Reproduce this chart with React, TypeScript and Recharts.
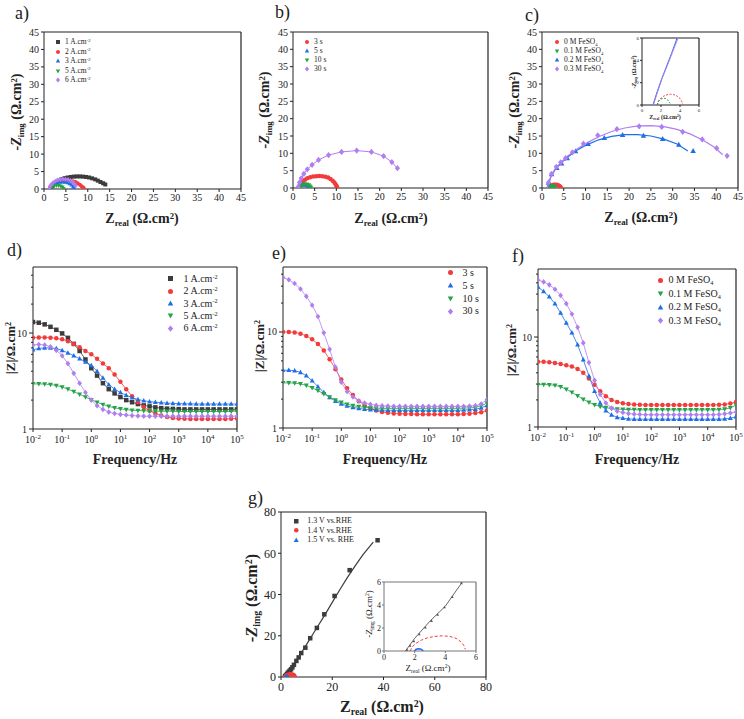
import React from 'react';
import { ComposedChart, Scatter, XAxis, YAxis, Legend, ReferenceLine } from 'recharts';

const FONT = '"Liberation Serif", "Times New Roman", Times, serif';
const INK = '#222';
const COL = { black: '#3c3c3c', red: '#f23b3b', blue: '#1e6fe5', green: '#26a349', purple: '#b07ef0' };

type P = [number, number];

// ---------- Panel a : Nyquist vs current density ----------
const nyqA_1A: P[] = [[1.6,0.2],[1.9,0.8],[2.3,1.4],[2.8,1.9],[3.4,2.4],[4.0,2.8],[4.7,3.1],[5.4,3.3],[6.1,3.45],[6.8,3.55],[7.5,3.6],[8.2,3.6],[8.9,3.55],[9.6,3.45],[10.3,3.3],[11.0,3.05],[11.7,2.75],[12.3,2.4],[12.9,2.0],[13.5,1.65],[14.0,1.3]];
const nyqA_2A: P[] = [[1.3,0],[1.45,0.6],[1.75,1.1],[2.15,1.5],[2.6,1.85],[3.1,2.12],[3.65,2.32],[4.2,2.45],[4.8,2.5],[5.4,2.47],[6.0,2.38],[6.6,2.22],[7.2,1.98],[7.7,1.65],[8.2,1.25],[8.6,0.82],[8.95,0.4],[9.15,0.05]];
const nyqA_3A: P[] = [[1.3,0],[1.45,0.5],[1.75,0.95],[2.15,1.33],[2.6,1.62],[3.1,1.83],[3.65,1.96],[4.2,2.0],[4.8,1.96],[5.35,1.82],[5.85,1.55],[6.3,1.15],[6.65,0.7],[6.9,0.25]];
const nyqA_5A: P[] = [[1.5,0],[1.65,0.4],[1.95,0.7],[2.35,0.9],[2.85,1.0],[3.35,0.98],[3.8,0.82],[4.2,0.52],[4.45,0.15]];
const nyqA_6A: P[] = [[1.2,0],[1.35,0.7],[1.65,1.3],[2.05,1.82],[2.55,2.25],[3.1,2.56],[3.7,2.75],[4.3,2.85],[4.9,2.83],[5.5,2.7],[6.05,2.42],[6.55,2.0],[6.95,1.5],[7.25,0.95]];

// ---------- Panel b : Nyquist vs deposition time ----------
const nyqB_3s: P[] = [[1.4,0],[1.55,0.7],[1.85,1.3],[2.25,1.9],[2.75,2.4],[3.3,2.8],[3.95,3.1],[4.65,3.3],[5.35,3.42],[6.05,3.46],[6.75,3.42],[7.45,3.27],[8.1,3.0],[8.65,2.62],[9.15,2.12],[9.55,1.58],[9.85,1.02],[10.1,0.5],[10.2,0.08]];
const nyqB_5s: P[] = [[1.0,0],[1.25,0.45],[1.65,0.72],[2.15,0.88],[2.65,0.92],[3.15,0.84],[3.55,0.62],[3.85,0.32],[4.0,0.05]];
const nyqB_10s: P[] = [[1.5,0],[1.75,0.48],[2.15,0.84],[2.65,1.04],[3.15,1.05],[3.6,0.86],[3.9,0.52],[4.1,0.15]];
const nyqB_30s: P[] = [[1.2,0.3],[1.5,1.6],[1.9,2.8],[2.5,4.1],[3.3,5.4],[4.4,6.7],[5.9,8.1],[8.2,9.5],[11.2,10.4],[14.7,10.8],[18.1,10.4],[20.9,9.2],[22.8,7.5],[24.1,5.7]];

// ---------- Panel c : Nyquist vs FeSO4 ----------
const nyqC_0M: P[] = [[1.6,0],[1.75,0.38],[2.0,0.62],[2.3,0.8],[2.65,0.92],[3.0,0.96],[3.35,0.93],[3.7,0.8],[4.0,0.58],[4.2,0.3],[4.3,0.05]];
const nyqC_01M: P[] = [[1.6,0],[1.72,0.3],[1.92,0.5],[2.2,0.6],[2.5,0.58],[2.75,0.42],[2.95,0.15]];
const nyqC_02M: P[] = [[1.5,1.5],[2.2,4.0],[3.4,5.8],[4.5,7.1],[5.8,8.6],[7.7,10.6],[10.6,12.7],[14.3,14.4],[18.5,15.3],[23.3,15.1],[27.7,14.1],[31.4,12.5],[34.7,10.7]];
const nyqC_03M: P[] = [[1.5,1.6],[2.2,4.1],[3.3,6.1],[4.3,7.4],[5.4,8.6],[7.0,10.3],[9.5,12.8],[12.8,15.2],[17.2,17.0],[22.3,17.8],[27.5,17.6],[32.3,16.2],[36.8,14.0],[40.1,11.5],[42.5,9.3]];
const fitC_02M: P[] = [[1.2,0],[2,3.1],[3,5.3],[4.5,7.4],[6,9.0],[8,10.9],[10,12.3],[13,13.9],[16,14.9],[19,15.4],[22,15.4],[25,15.0],[28,14.1],[31,12.7],[33.5,10.7]];
const fitC_03M: P[] = [[1.2,0],[2,3.2],[3,5.5],[4.5,7.6],[6,9.3],[8,11.2],[10,12.8],[13,14.8],[16,16.3],[19,17.3],[22,17.9],[25,18.0],[28,17.7],[31,16.9],[34,15.6],[37,13.8],[39.5,11.8],[41.5,9.6]];
const insC_02M: P[] = [[1.15,0],[1.6,1.2],[2.1,2.4],[2.6,3.5],[3.1,4.6],[3.7,6]];
const insC_03M: P[] = [[1.2,0],[1.65,1.2],[2.15,2.45],[2.7,3.6],[3.2,4.7],[3.8,6]];

// ---------- Panel g : Nyquist vs potential ----------
const nyqG_13V: P[] = [[1.5,0.1],[1.7,0.45],[1.95,0.85],[2.3,1.45],[2.7,2.05],[3.1,2.6],[3.5,3.15],[3.95,3.8],[4.45,4.7],[5.05,5.9],[6.0,7.8],[6.9,9.5],[7.9,11.6],[9.5,14.2],[11.4,18.8],[14.0,23.8],[16.9,30.4],[20.9,39.3],[26.8,51.8],[37.7,66.3]];
const fitG_13V: P[] = [[1.4,0],[2,1.1],[3,2.6],[4,3.9],[5,5.8],[6.5,8.9],[8,11.9],[10,15.8],[12,19.9],[14,23.9],[17,29.9],[20,36.2],[23,42.4],[26,48.4],[29,54],[32,59.3],[36,65.4]];
const nyqG_14V: P[] = [[1.7,0],[1.85,0.38],[2.1,0.68],[2.45,0.95],[2.85,1.15],[3.3,1.27],[3.8,1.32],[4.3,1.27],[4.7,1.1],[5.0,0.82],[5.2,0.5],[5.3,0.15]];
const nyqG_15V: P[] = [[2.0,0],[2.08,0.13],[2.22,0.2],[2.38,0.18],[2.5,0.08],[2.55,0]];

// ---------- Bode panels d, e, f ----------
const FREQ = [0.01,0.0158,0.0251,0.0398,0.0631,0.1,0.158,0.251,0.398,0.631,1,1.58,2.51,3.98,6.31,10,15.8,25.1,39.8,63.1,100,158,251,398,631,1000,1580,2510,3980,6310,10000,15800,25100,39800,63100,100000];

const d_1A = [13,12.8,12.3,11.6,10.8,9.9,8.9,7.7,6.5,5.3,4.3,3.6,3.0,2.6,2.35,2.15,2.0,1.9,1.82,1.76,1.72,1.68,1.65,1.63,1.62,1.61,1.6,1.6,1.6,1.6,1.6,1.6,1.6,1.6,1.6,1.6];
const d_2A = [8.9,9.0,9.0,8.95,8.8,8.6,8.2,7.7,7.1,6.5,6.0,5.4,4.8,4.3,3.7,3.1,2.6,2.2,1.9,1.7,1.55,1.45,1.38,1.33,1.3,1.29,1.28,1.27,1.27,1.27,1.27,1.27,1.27,1.27,1.28,1.29];
const d_3A = [6.7,6.9,7.0,7.0,6.9,6.6,6.2,5.8,5.4,5.0,4.6,4.0,3.4,2.9,2.6,2.4,2.25,2.12,2.03,1.97,1.93,1.9,1.88,1.86,1.85,1.84,1.83,1.83,1.82,1.82,1.82,1.82,1.82,1.82,1.82,1.82];
const d_5A = [2.95,2.95,2.94,2.9,2.84,2.74,2.6,2.45,2.3,2.15,2.02,1.9,1.8,1.72,1.66,1.62,1.59,1.57,1.56,1.55,1.54,1.53,1.53,1.53,1.53,1.52,1.52,1.52,1.52,1.52,1.52,1.52,1.52,1.52,1.53,1.54];
const d_6A = [7.5,7.6,7.5,7.2,6.6,5.8,4.8,3.8,3.0,2.4,2.0,1.75,1.6,1.5,1.45,1.42,1.4,1.38,1.37,1.36,1.36,1.36,1.36,1.36,1.36,1.36,1.36,1.36,1.36,1.36,1.36,1.36,1.36,1.36,1.36,1.36];

const e_3s = [10,10,9.9,9.6,9.1,8.4,7.5,6.4,5.2,4.1,3.2,2.6,2.2,1.9,1.72,1.6,1.52,1.47,1.44,1.42,1.41,1.4,1.4,1.39,1.39,1.39,1.39,1.39,1.39,1.39,1.39,1.4,1.41,1.43,1.46,1.52];
const e_5s = [4.0,4.0,3.95,3.8,3.5,3.1,2.7,2.35,2.08,1.9,1.78,1.7,1.64,1.6,1.57,1.55,1.54,1.54,1.53,1.53,1.53,1.53,1.53,1.53,1.53,1.53,1.53,1.53,1.53,1.53,1.53,1.54,1.55,1.57,1.62,1.72];
const e_10s = [2.95,2.95,2.93,2.88,2.78,2.62,2.45,2.27,2.1,1.96,1.85,1.77,1.71,1.67,1.64,1.62,1.61,1.6,1.6,1.6,1.6,1.6,1.6,1.6,1.6,1.6,1.6,1.6,1.6,1.6,1.6,1.61,1.62,1.64,1.7,1.82];
const e_30s = [37,35,32,28,23.5,19,14.5,9.8,6.6,4.3,3.0,2.4,2.1,1.92,1.82,1.76,1.72,1.7,1.69,1.68,1.68,1.68,1.68,1.68,1.68,1.68,1.68,1.68,1.68,1.68,1.68,1.68,1.69,1.71,1.78,1.98];

const f_0M = [5.3,5.3,5.25,5.15,5.0,4.85,4.7,4.4,4.0,3.45,2.95,2.5,2.2,2.0,1.9,1.84,1.8,1.78,1.77,1.76,1.76,1.76,1.76,1.76,1.76,1.76,1.76,1.76,1.76,1.76,1.76,1.76,1.77,1.78,1.82,1.9];
const f_01M = [2.95,2.97,2.95,2.9,2.8,2.63,2.43,2.22,2.03,1.88,1.77,1.69,1.64,1.6,1.58,1.57,1.56,1.56,1.55,1.55,1.55,1.55,1.55,1.55,1.55,1.55,1.55,1.55,1.55,1.55,1.55,1.55,1.56,1.58,1.63,1.75];
const f_02M = [36,32,28,23.5,18.5,14.3,11.2,8.2,5.6,3.7,2.5,1.85,1.52,1.36,1.28,1.25,1.23,1.22,1.22,1.22,1.22,1.22,1.22,1.22,1.22,1.22,1.22,1.22,1.22,1.22,1.22,1.22,1.22,1.23,1.25,1.3];
const f_03M = [43,41,38,34,29,23.5,18,12.8,8.6,5.2,3.3,2.3,1.85,1.62,1.5,1.45,1.41,1.39,1.38,1.37,1.37,1.37,1.37,1.37,1.37,1.37,1.37,1.37,1.37,1.37,1.37,1.37,1.38,1.4,1.43,1.47];

// ---------- ticks ----------
const NYQ_TICKS = [0,5,10,15,20,25,30,35,40,45];
const G_TICKS = [0,20,40,60,80];
const INSET_TICKS = [0,2,4,6];
const FREQ_TICKS = [0.01,0.1,1,10,100,1000,10000,100000];
const LOGY_TICKS = [1,2,3,4,5,6,7,8,9,10,20,30,40];
const LOGY_TICKS_F = [1,2,3,4,5,6,7,8,9,10,20,30,40,50];

// ---------- labels ----------
const LEG_A = ['1', '2', '3', '5', '6'];
const LEG_B = ['3 s', '5 s', '10 s', '30 s'];
const LEG_C = ['0', '0.1', '0.2', '0.3'];
const LEG_G = ['1.3 V vs.RHE', '1.4 V vs.RHE', '1.5 V vs. RHE'];

const pts = (a: P[]) => a.map(([x, y]) => ({ x, y }));
const bode = (v: number[]) => FREQ.map((f, i) => ({ x: f, y: v[i] }));

type Kind = 'square' | 'circle' | 'up' | 'down' | 'diamond' | 'none';

function Mark(props: any) {
  const { cx, cy, kind, color, s } = props;
  if (cx == null || cy == null || isNaN(cx) || isNaN(cy) || kind === 'none') return <g />;
  const h = s / 2;
  switch (kind) {
    case 'square':
      return <rect x={cx - h} y={cy - h} width={s} height={s} fill={color} />;
    case 'circle':
      return <circle cx={cx} cy={cy} r={h} fill={color} />;
    case 'up':
      return <polygon points={`${cx},${cy - h * 1.2} ${cx - h * 1.1},${cy + h * 0.8} ${cx + h * 1.1},${cy + h * 0.8}`} fill={color} />;
    case 'down':
      return <polygon points={`${cx},${cy + h * 1.2} ${cx - h * 1.1},${cy - h * 0.8} ${cx + h * 1.1},${cy - h * 0.8}`} fill={color} />;
    case 'diamond':
      return <polygon points={`${cx},${cy - h * 1.25} ${cx + h * 1.05},${cy} ${cx},${cy + h * 1.25} ${cx - h * 1.05},${cy}`} fill={color} />;
    default:
      return <g />;
  }
}

const Sub = ({ children }: any) => <span style={{ fontSize: '0.62em', position: 'relative', top: '0.35em' }}>{children}</span>;
const Sup = ({ children }: any) => <span style={{ fontSize: '0.62em', position: 'relative', top: '-0.5em' }}>{children}</span>;

interface LegItem { label: React.ReactNode; kind: Kind; color: string; }
interface LegSpec { x: number; y: number; dy: number; fs: number; ms: number; gap: number; items: LegItem[]; }

function LegendBox({ spec }: { spec: LegSpec }) {
  const box = spec.ms + 2;
  return (
    <div style={{ position: 'relative', fontFamily: FONT, fontSize: spec.fs, color: INK }}>
      {spec.items.map((it, i) => (
        <div key={i} style={{ position: 'absolute', left: 0, top: i * spec.dy, height: spec.dy, display: 'flex', alignItems: 'center', whiteSpace: 'nowrap' }}>
          <svg width={box} height={box} style={{ overflow: 'visible', display: 'block' }}>
            <Mark cx={box / 2} cy={box / 2} kind={it.kind} color={it.color} s={spec.ms} />
          </svg>
          <span style={{ marginLeft: spec.gap, lineHeight: 1 }}>{it.label}</span>
        </div>
      ))}
    </div>
  );
}

const LogXTick = (props: any) => {
  const { x, y, payload, fs } = props;
  const ay = y - 6;
  const e = Math.round(Math.log10(payload.value));
  return (
    <g>
      <line x1={x} x2={x} y1={ay} y2={ay + 3} stroke={INK} />
      <text x={x} y={ay + fs + 4} textAnchor="middle" fontSize={fs} fontFamily={FONT} fill={INK}>
        10<tspan dy={-fs * 0.42} fontSize={fs * 0.7}>{String(e)}</tspan>
      </text>
    </g>
  );
};

const LogYTick = (props: any) => {
  const { x, y, payload, fs } = props;
  const ax = x + 6;
  const v = payload.value;
  const major = v === 1 || v === 10;
  return (
    <g>
      <line x1={ax} x2={ax - (major ? 4 : 2)} y1={y} y2={y} stroke={INK} />
      {major && (
        <text x={ax - 6} y={y} dy="0.35em" textAnchor="end" fontSize={fs} fontFamily={FONT} fill={INK}>{v}</text>
      )}
    </g>
  );
};

interface Series { data: { x: number; y: number }[]; kind: Kind; color: string; size: number; line?: { w: number; dash?: string }; }
interface PanelProps {
  rect: { x: number; y: number; w: number; h: number };
  xDomain: [number, number]; yDomain: [number, number];
  xTicks: number[]; yTicks: number[];
  xLog?: boolean; yLog?: boolean;
  series: Series[];
  legend?: LegSpec;
  fs: number;
  frame?: string;
  tl?: number;
  tm?: number;
  padL?: number;
  padB?: number;
  padR?: number;
  padT?: number;
}

function Panel(p: PanelProps) {
  const padL = p.padL ?? 34, padT = p.padT ?? 6, padR = p.padR ?? 6, padB = p.padB ?? 24;
  const W = p.rect.w + padL + padR, H = p.rect.h + padT + padB;
  const left = p.rect.x - padL, top = p.rect.y - padT;
  const frame = p.frame ?? INK;
  const tl = p.tl ?? 3;
  const tm = p.tm ?? 2;
  const tickStyle = { fontSize: p.fs, fill: INK, fontFamily: FONT };
  return (
    <div style={{ position: 'absolute', left, top, width: W, height: H }}>
      <ComposedChart width={W} height={H} margin={{ top: padT, right: padR, bottom: 0, left: 0 }}>
        <XAxis
          type="number" dataKey="x" scale={p.xLog ? 'log' : 'linear'} domain={p.xDomain} ticks={p.xTicks}
          interval={0} allowDataOverflow height={padB}
          axisLine={{ stroke: frame, strokeWidth: 1 }}
          tickLine={p.xLog ? false : { stroke: frame }}
          tickSize={p.xLog ? 4 : tl} tickMargin={p.xLog ? 2 : tm}
          tick={p.xLog ? (tp: any) => <LogXTick {...tp} fs={p.fs} /> : tickStyle}
        />
        <YAxis
          type="number" dataKey="y" scale={p.yLog ? 'log' : 'linear'} domain={p.yDomain} ticks={p.yTicks}
          interval={0} allowDataOverflow width={padL}
          axisLine={{ stroke: frame, strokeWidth: 1 }}
          tickLine={p.yLog ? false : { stroke: frame }}
          tickSize={p.yLog ? 4 : tl} tickMargin={p.yLog ? 2 : tm}
          tick={p.yLog ? (tp: any) => <LogYTick {...tp} fs={p.fs} /> : tickStyle}
        />
        <ReferenceLine y={p.yDomain[1]} stroke={frame} strokeWidth={1} />
        <ReferenceLine x={p.xDomain[1]} stroke={frame} strokeWidth={1.2} />
        {p.series.map((s, i) => (
          <Scatter
            key={i}
            data={s.data}
            isAnimationActive={false}
            fill={s.color}
            legendType="none"
            line={s.line ? { stroke: s.color, strokeWidth: s.line.w, strokeDasharray: s.line.dash } : false}
            lineType="joint"
            shape={(sp: any) => <Mark cx={sp.cx} cy={sp.cy} kind={s.kind} color={s.color} s={s.size} />}
          />
        ))}
        {p.legend && (
          <Legend
            layout="vertical" align="center" verticalAlign="middle"
            wrapperStyle={{ left: p.legend.x - (p.legend.ms + 2) / 2 - left, top: p.legend.y - p.legend.dy / 2 - top }}
            content={() => <LegendBox spec={p.legend as LegSpec} />}
          />
        )}
      </ComposedChart>
    </div>
  );
}

function Txt({ x, y, size, bold, rotate, children, anchor }: any) {
  const tr = anchor === 'left' ? 'translate(0,-50%)' : `translate(-50%,-50%)${rotate ? ' rotate(-90deg)' : ''}`;
  return (
    <div style={{ position: 'absolute', left: x, top: y, transform: tr, fontFamily: FONT, fontSize: size, fontWeight: bold ? 'bold' : 'normal', whiteSpace: 'nowrap', lineHeight: 1, color: INK }}>
      {children}
    </div>
  );
}

const ZimgTitle = () => (<span><i>-Z</i><Sub>img</Sub> (Ω.cm<Sup>2</Sup>)</span>);
const ZrealTitle = () => (<span>Z<Sub>real</Sub> (Ω.cm<Sup>2</Sup>)</span>);
const ModTitle = () => (<span>|Z|/Ω.cm<Sup>2</Sup></span>);

const curLabel = (v: string) => (<span>{v} A.cm<Sup>-2</Sup></span>);
const feLabel = (v: string) => (<span>{v} M FeSO<Sub>4</Sub></span>);

export default function App() {
  const kindsA: Kind[] = ['square', 'circle', 'up', 'down', 'diamond'];
  const colsA = [COL.black, COL.red, COL.blue, COL.green, COL.purple];
  const kindsB: Kind[] = ['circle', 'up', 'down', 'diamond'];
  const colsB = [COL.red, COL.blue, COL.green, COL.purple];
  const kindsC: Kind[] = ['circle', 'down', 'up', 'diamond'];
  const colsC = [COL.red, COL.green, COL.blue, COL.purple];
  const kindsG: Kind[] = ['square', 'circle', 'up'];
  const colsG = [COL.black, COL.red, COL.blue];

  const nyqDomain: [number, number] = [0, 45];

  return (
    <div style={{ position: 'absolute', left: 0, top: 0, width: 744, height: 719, background: '#fff', overflow: 'hidden' }}>
      {/* a */}
      <Panel
        rect={{ x: 44, y: 32, w: 197, h: 157 }} xDomain={nyqDomain} yDomain={nyqDomain}
        xTicks={NYQ_TICKS} yTicks={NYQ_TICKS} fs={10}
        series={[nyqA_1A, nyqA_2A, nyqA_3A, nyqA_5A, nyqA_6A].map((d, i) => ({ data: pts(d), kind: kindsA[i], color: colsA[i], size: 4 }))}
        legend={{ x: 58, y: 42, dy: 9.5, fs: 7.5, ms: 4, gap: 4, items: LEG_A.map((v, i) => ({ label: curLabel(v), kind: kindsA[i], color: colsA[i] })) }}
      />
      {/* b */}
      <Panel
        rect={{ x: 293, y: 32, w: 195, h: 156 }} xDomain={nyqDomain} yDomain={nyqDomain}
        xTicks={NYQ_TICKS} yTicks={NYQ_TICKS} fs={10}
        series={[nyqB_3s, nyqB_5s, nyqB_10s, nyqB_30s].map((d, i) => ({ data: pts(d), kind: kindsB[i], color: colsB[i], size: i === 3 ? 5 : 4.5, line: { w: 1 } }))}
        legend={{ x: 307, y: 42, dy: 9, fs: 7.5, ms: 4, gap: 4, items: LEG_B.map((v, i) => ({ label: v, kind: kindsB[i], color: colsB[i] })) }}
      />
      {/* c */}
      <Panel
        rect={{ x: 542, y: 32, w: 196, h: 156 }} xDomain={nyqDomain} yDomain={nyqDomain}
        xTicks={NYQ_TICKS} yTicks={NYQ_TICKS} fs={10}
        series={[
          { data: pts(nyqC_0M), kind: 'circle', color: COL.red, size: 4.5 },
          { data: pts(nyqC_01M), kind: 'down', color: COL.green, size: 4.5 },
          { data: pts(fitC_02M), kind: 'none', color: COL.blue, size: 0, line: { w: 1.2 } },
          { data: pts(nyqC_02M), kind: 'up', color: COL.blue, size: 5 },
          { data: pts(fitC_03M), kind: 'none', color: COL.purple, size: 0, line: { w: 1.2 } },
          { data: pts(nyqC_03M), kind: 'diamond', color: COL.purple, size: 5 },
        ]}
        legend={{ x: 557, y: 42, dy: 9, fs: 7.5, ms: 4, gap: 4, items: LEG_C.map((v, i) => ({ label: feLabel(v), kind: kindsC[i], color: colsC[i] })) }}
      />
      {/* c inset */}
      <Panel
        rect={{ x: 642, y: 38, w: 57, h: 67 }} xDomain={[0, 6]} yDomain={[0, 6]}
        xTicks={INSET_TICKS} yTicks={INSET_TICKS} fs={5} tl={2} tm={1} padL={10} padB={8} padT={4}
        series={[
          { data: pts(insC_02M), kind: 'none', color: COL.blue, size: 0, line: { w: 1 } },
          { data: pts(insC_03M), kind: 'none', color: COL.purple, size: 0, line: { w: 1 } },
          { data: pts(nyqC_0M), kind: 'none', color: COL.red, size: 0, line: { w: 1, dash: '2 1.5' } },
          { data: pts(nyqC_01M), kind: 'none', color: COL.green, size: 0, line: { w: 1, dash: '2 1.5' } },
        ]}
      />

      {/* d */}
      <Panel
        rect={{ x: 33, y: 267, w: 204, h: 162 }} xDomain={[0.01, 100000]} yDomain={[1, 48.7]} xLog yLog padR={14}
        xTicks={FREQ_TICKS} yTicks={LOGY_TICKS} fs={10}
        series={[d_1A, d_2A, d_3A, d_5A, d_6A].map((v, i) => ({ data: bode(v), kind: kindsA[i], color: colsA[i], size: 4.5, line: { w: 0.8 } }))}
        legend={{ x: 170, y: 279, dy: 12.3, fs: 10, ms: 5, gap: 10, items: LEG_A.map((v, i) => ({ label: curLabel(v), kind: kindsA[i], color: colsA[i] })) }}
      />
      {/* e */}
      <Panel
        rect={{ x: 283, y: 267, w: 204, h: 161 }} xDomain={[0.01, 100000]} yDomain={[1, 47.5]} xLog yLog padR={14}
        xTicks={FREQ_TICKS} yTicks={LOGY_TICKS} fs={10}
        series={[e_3s, e_5s, e_10s, e_30s].map((v, i) => ({ data: bode(v), kind: kindsB[i], color: colsB[i], size: 4.5, line: { w: 0.8 } }))}
        legend={{ x: 450, y: 273, dy: 12.8, fs: 10, ms: 5, gap: 9, items: LEG_B.map((v, i) => ({ label: v, kind: kindsB[i], color: colsB[i] })) }}
      />
      {/* f */}
      <Panel
        rect={{ x: 538, y: 269, w: 198, h: 158 }} xDomain={[0.01, 100000]} yDomain={[1, 57]} xLog yLog padR={14}
        xTicks={FREQ_TICKS} yTicks={LOGY_TICKS_F} fs={10}
        series={[f_0M, f_01M, f_02M, f_03M].map((v, i) => ({ data: bode(v), kind: kindsC[i], color: colsC[i], size: 4.5, line: { w: 0.8 } }))}
        legend={{ x: 660, y: 280, dy: 13.5, fs: 10, ms: 5, gap: 5, items: LEG_C.map((v, i) => ({ label: feLabel(v), kind: kindsC[i], color: colsC[i] })) }}
      />

      {/* g */}
      <Panel
        rect={{ x: 281, y: 512, w: 205, h: 165 }} xDomain={[0, 80]} yDomain={[0, 80]}
        xTicks={G_TICKS} yTicks={G_TICKS} fs={12} padT={10}
        series={[
          { data: pts(fitG_13V), kind: 'none', color: COL.black, size: 0, line: { w: 1.2 } },
          { data: pts(nyqG_13V), kind: 'square', color: COL.black, size: 4.5 },
          { data: pts(nyqG_14V), kind: 'circle', color: COL.red, size: 4.5 },
          { data: pts(nyqG_15V), kind: 'up', color: COL.blue, size: 4.5 },
        ]}
        legend={{ x: 296, y: 521, dy: 9.6, fs: 8, ms: 4.5, gap: 8, items: LEG_G.map((v, i) => ({ label: v, kind: kindsG[i], color: colsG[i] })) }}
      />
      {/* g inset */}
      <Panel
        rect={{ x: 384, y: 582, w: 92, h: 69 }} xDomain={[0, 6]} yDomain={[0, 6]}
        xTicks={INSET_TICKS} yTicks={INSET_TICKS} fs={8} tl={2} tm={1} padL={12} padB={12} frame="#777"
        series={[
          { data: pts(fitG_13V), kind: 'none', color: COL.black, size: 0, line: { w: 0.8 } },
          { data: pts(nyqG_13V), kind: 'up', color: '#555', size: 2.5 },
          { data: pts(nyqG_14V), kind: 'none', color: COL.red, size: 0, line: { w: 1, dash: '3 2' } },
          { data: pts(nyqG_15V), kind: 'none', color: COL.blue, size: 0, line: { w: 1.6 } },
        ]}
      />

      {/* panel letters */}
      <Txt x={15} y={13} size={18} anchor="left">a)</Txt>
      <Txt x={275} y={12} size={18} anchor="left">b)</Txt>
      <Txt x={525} y={15} size={18} anchor="left">c)</Txt>
      <Txt x={7} y={250} size={18} anchor="left">d)</Txt>
      <Txt x={272} y={253} size={18} anchor="left">e)</Txt>
      <Txt x={512} y={256} size={18} anchor="left">f)</Txt>
      <Txt x={248} y={498} size={18} anchor="left">g)</Txt>

      {/* Nyquist titles */}
      <Txt x={17} y={112} size={14} bold rotate><ZimgTitle /></Txt>
      <Txt x={265} y={110} size={14} bold rotate><ZimgTitle /></Txt>
      <Txt x={515} y={110} size={14} bold rotate><ZimgTitle /></Txt>
      <Txt x={142} y={219} size={14} bold><ZrealTitle /></Txt>
      <Txt x={391} y={219} size={14} bold><ZrealTitle /></Txt>
      <Txt x={641} y={218} size={14} bold><ZrealTitle /></Txt>
      {/* c inset titles */}
      <Txt x={634} y={72} size={6} bold rotate><ZimgTitle /></Txt>
      <Txt x={665} y={117} size={6} bold><ZrealTitle /></Txt>

      {/* Bode titles */}
      <Txt x={11} y={348} size={13} bold rotate><ModTitle /></Txt>
      <Txt x={260} y={346} size={13} bold rotate><ModTitle /></Txt>
      <Txt x={512} y={350} size={13} bold rotate><ModTitle /></Txt>
      <Txt x={135} y={460} size={14} bold>Frequency/Hz</Txt>
      <Txt x={385} y={460} size={14} bold>Frequency/Hz</Txt>
      <Txt x={637} y={460} size={14} bold>Frequency/Hz</Txt>

      {/* g titles */}
      <Txt x={252} y={598} size={16} bold rotate><ZimgTitle /></Txt>
      <Txt x={382} y={707} size={16} bold><ZrealTitle /></Txt>
      <Txt x={369} y={614} size={9} rotate><ZimgTitle /></Txt>
      <Txt x={428} y={668} size={9}><ZrealTitle /></Txt>
    </div>
  );
}
